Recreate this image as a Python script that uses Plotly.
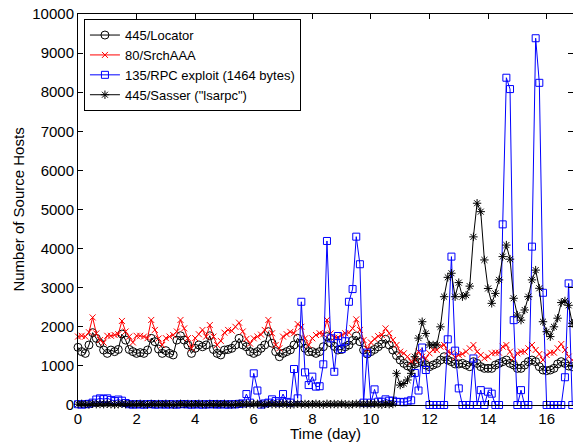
import numpy as np
import plotly.graph_objects as go

# 3-hour bins, time in days
days = np.arange(0, 17, 0.125)

locator = [1475, 1365, 1320, 1535, 1850, 1705, 1580, 1405,
           1320, 1405, 1365, 1420, 1815, 1660, 1420, 1365,
           1320, 1340, 1320, 1405, 1705, 1620, 1430, 1320,
           1390, 1320, 1280, 1660, 1770, 1660, 1535, 1320,
           1450, 1535, 1490, 1535, 1770, 1420, 1320, 1280,
           1405, 1420, 1450, 1535, 1705, 1535, 1490, 1365,
           1320, 1365, 1450, 1535, 1875, 1580, 1365, 1235,
           1320, 1365, 1410, 1535, 1705, 1580, 1450, 1365,
           1365, 1320, 1365, 1490, 1750, 1590, 1500, 1407,
           1420, 1490, 1535, 1650, 1765, 1620, 1407, 1304,
           1365, 1420, 1490, 1560, 1680, 1535, 1405, 1265,
           1150, 1065, 1000, 965, 1050, 1085, 1108, 1023,
           980, 1023, 1065, 1150, 1235, 1150, 1108, 1050,
           1050, 1065, 1023, 980, 1108, 1065, 980, 937,
           937, 937, 1023, 1065, 1108, 1150, 1065, 1023,
           937, 937, 1023, 1108, 1150, 1108, 980, 895,
           878, 895, 937, 1050, 1108, 1065, 997, 980]

srchaaa = [1750, 1770, 1750, 1860, 2240, 1830, 1660, 1595,
           1770, 1770, 1790, 1810, 2150, 1880, 1750, 1600,
           1770, 1770, 1750, 1710, 2175, 1920, 1700, 1535,
           1710, 1750, 1790, 1880, 2175, 1960, 1710, 1450,
           1710, 1810, 1920, 1750, 2045, 1750, 1535, 1640,
           1850, 1920, 1900, 2000, 2105, 1880, 1690, 1570,
           1705, 1750, 1800, 1920, 2175, 1835, 1535, 1450,
           1750, 1810, 1870, 1835, 2070, 2000, 1705, 1535,
           1705, 1790, 1835, 1810, 2175, 1830, 1720, 1730,
           1790, 1835, 1850, 1960, 2190, 1920, 1660, 1425,
           1600, 1690, 1760, 1790, 1960, 1835, 1662, 1535,
           1364, 1322, 1236, 1110, 1150, 1364, 1236, 1194,
           1322, 1407, 1407, 1492, 1535, 1364, 1322, 1219,
           1279, 1304, 1364, 1450, 1535, 1364, 1279, 1194,
           1236, 1322, 1338, 1338, 1492, 1535, 1364, 1194,
           1322, 1364, 1364, 1450, 1535, 1407, 1304, 1150,
           1279, 1338, 1338, 1450, 1560, 1407, 1236, 1150]

rpc = [20, 10, 20, 30, 60, 140, 170, 150,
       170, 130, 100, 140, 110, 50, 20, 10,
       20, 15, 10, 20, 25, 10, 15, 20,
       10, 20, 15, 10, 20, 25, 15, 10,
       20, 15, 10, 20, 15, 25, 10, 20,
       15, 10, 20, 15, 30, 40, 280, 60,
       810, 370, 10, 40, 60, 145, 100, 60,
       280, 80, 60, 920, 170, 2640, 835, 510,
       725, 470, 480, 1040, 4195, 1705, 850, 1765,
       1430, 1630, 2640, 2965, 4305, 3600, 60, 1340,
       60, 400, 85, 85, 145, 110, 110, 80,
       80, 70, 90, 120, 820, 370, 1470, 895,
       0, 0, 0, 0, 0, 1680, 3795, 1390,
       425, 0, 0, 0, 1190, 0, 380, 0,
       340, 290, 0, 0, 4620, 8370, 8080, 2170,
       0, 380, 0, 0, 4050, 9380, 8240, 2870,
       0, 0, 0, 0, 0, 710, 3110, 0]

sasser = [20, 30, 20, 10, 30, 20, 25, 20,
          30, 20, 10, 20, 30, 20, 25, 20,
          20, 30, 20, 10, 30, 20, 25, 20,
          30, 20, 10, 20, 30, 20, 25, 20,
          20, 30, 20, 10, 30, 20, 25, 20,
          30, 20, 10, 20, 30, 20, 25, 20,
          20, 30, 20, 10, 30, 20, 25, 20,
          30, 20, 10, 20, 30, 20, 25, 20,
          20, 30, 20, 10, 30, 20, 25, 20,
          30, 20, 10, 20, 30, 20, 25, 20,
          20, 30, 20, 10, 30, 20, 25, 810,
          510, 550, 640, 810, 1235, 1710, 2130, 1830,
          1535, 1535, 1535, 2000, 2770, 3265, 3370, 2770,
          3130, 2770, 2810, 3040, 4300, 5160, 4945, 3710,
          2980, 2600, 2855, 3200, 3795, 4090, 3730, 2730,
          2300, 2170, 2430, 2770, 3200, 3450, 2985, 2130,
          1875, 1750, 2000, 2220, 2620, 2660, 2550, 2090]

fig = go.Figure()
fig.add_trace(go.Scatter(x=days, y=locator, mode='lines+markers', name='445/Locator',
                         line=dict(color='black', width=1), cliponaxis=False,
                         marker=dict(symbol='circle-open', size=8, color='black',
                                     line=dict(width=1, color='black'))))
fig.add_trace(go.Scatter(x=days, y=srchaaa, mode='lines+markers', name='80/SrchAAA',
                         line=dict(color='red', width=1), cliponaxis=False,
                         marker=dict(symbol='x-thin-open', size=6, color='red',
                                     line=dict(width=1, color='red'))))
fig.add_trace(go.Scatter(x=days, y=rpc, mode='lines+markers', name='135/RPC exploit (1464 bytes)',
                         line=dict(color='blue', width=1), cliponaxis=False,
                         marker=dict(symbol='square-open', size=7, color='blue',
                                     line=dict(width=1, color='blue'))))
fig.add_trace(go.Scatter(x=days, y=sasser, mode='lines+markers', name='445/Sasser ("lsarpc")',
                         line=dict(color='black', width=1), cliponaxis=False,
                         marker=dict(symbol='asterisk-open', size=7, color='black',
                                     line=dict(width=1, color='black'))))

axis_style = dict(showline=True, linecolor='black', linewidth=1, mirror='ticks',
                  ticks='inside', ticklen=5, tickcolor='black', showgrid=False,
                  zeroline=False, tickfont=dict(size=15), automargin=False)

fig.update_layout(
    width=573, height=443,
    margin=dict(l=78, r=0, t=14, b=38),
    paper_bgcolor='white', plot_bgcolor='white',
    font=dict(family='Liberation Sans, Arial, sans-serif', size=15, color='black'),
    legend=dict(x=0.012, y=0.987, xanchor='left', yanchor='top', bgcolor='white',
                bordercolor='black', borderwidth=1, font=dict(size=13),
                tracegroupgap=0, itemwidth=30),
    xaxis=dict(range=[0, 16.9], tickvals=list(range(0, 17, 2)), **axis_style),
    yaxis=dict(range=[0, 10000], dtick=1000, tickformat='d', **axis_style),
    annotations=[
        dict(text='Time (day)', xref='paper', yref='paper', x=0.5, y=-0.074,
             xanchor='center', yanchor='middle', showarrow=False, font=dict(size=15)),
        dict(text='Number of Source Hosts', xref='paper', yref='paper', x=-0.121, y=0.5,
             xanchor='center', yanchor='middle', textangle=-90, showarrow=False,
             font=dict(size=15)),
    ],
)

# drop the default 8px body margin so the figure sits at the page corner
fig.write_html("out.html", config={'displayModeBar': False},
               post_script="document.body.style.margin='0';")
